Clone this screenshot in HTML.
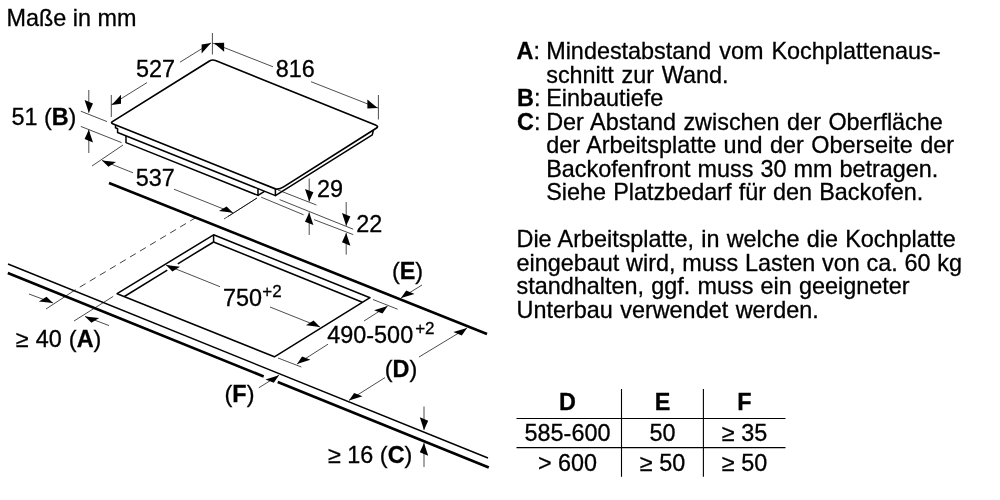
<!DOCTYPE html>
<html lang="de"><head><meta charset="utf-8"><title>Maße in mm</title>
<style>
html,body{margin:0;padding:0;background:#fff;}
body{width:1000px;height:500px;overflow:hidden;}
svg{display:block;will-change:transform;font-family:"Liberation Sans",Arial,Helvetica,sans-serif;font-size:23.4px;fill:#000;stroke:#000;}
svg text{stroke:#000;stroke-width:0.3px;fill:#000;}
</style></head><body>
<svg width="1000" height="500" viewBox="0 0 1000 500">
<rect x="0" y="0" width="1000" height="500" fill="#fff" stroke="none"/>
<text x="6.5" y="25.5" text-anchor="start" >Maße in mm</text>
<path d="M113.2,123.95 Q110.4,122.9 112.4,121.6 L209.5,60.95 Q212.3,59.3 215.5,60.55 L375.5,125.0 Q379.05,126.45 376.2,128.25 L284,186.6 Q278.8,189.9 275.4,188.86 Z" fill="none" stroke-width="1.7" stroke-linejoin="round"/>
<polyline points="115.5,124.9 115.5,127.8 117.6,128.8 117.6,132.5 275.4,195.6 275.4,188.9" stroke-width="1.5" fill="none" stroke-linejoin="round" />
<polyline points="126.0,135.9 126.0,142.6 258.0,195.4 258.0,188.7" stroke-width="1.5" fill="none" stroke-linejoin="round" />
<polyline points="258.0,195.4 264.5,191.3" stroke-width="1.5" fill="none" stroke-linejoin="round" />
<polyline points="275.4,195.6 372.3,134.8 373.4,130.2" stroke-width="1.5" fill="none" stroke-linejoin="round" />
<line x1="212.4" y1="33.0" x2="212.4" y2="54.5" stroke-width="0.7" />
<line x1="111.3" y1="95.0" x2="111.3" y2="117.0" stroke-width="0.7" />
<line x1="378.4" y1="95.0" x2="378.4" y2="119.5" stroke-width="0.7" />
<line x1="211.0" y1="43.0" x2="180.0" y2="62.2" stroke-width="0.7" />
<line x1="147.0" y1="82.6" x2="111.5" y2="104.7" stroke-width="0.7" />
<polygon points="211.0,43.1 201.6,53.4 201.6,44.4" fill="#000" stroke="none"/>
<polygon points="111.7,105.0 121.0,103.7 121.0,94.7" fill="#000" stroke="none"/>
<text x="155.5" y="76.7" text-anchor="middle" >527</text>
<line x1="212.5" y1="43.0" x2="273.0" y2="66.8" stroke-width="0.7" />
<line x1="311.0" y1="81.7" x2="378.0" y2="108.0" stroke-width="0.7" />
<polygon points="213.9,43.1 224.1,51.7 224.1,42.7" fill="#000" stroke="none"/>
<polygon points="377.6,108.0 367.4,108.5 367.4,99.5" fill="#000" stroke="none"/>
<text x="295.3" y="76.9" text-anchor="middle" >816</text>
<text x="11.4" y="125.1" text-anchor="start" >51 (<tspan font-weight="bold">B</tspan>)</text>
<line x1="80.8" y1="111.2" x2="107.0" y2="121.6" stroke-width="0.7" />
<line x1="80.8" y1="126.4" x2="121.6" y2="142.6" stroke-width="0.7" />
<line x1="88.8" y1="90.0" x2="88.8" y2="112.8" stroke-width="0.7" />
<polygon points="88.8,112.8 93.0,103.5 84.6,100.1" fill="#000" stroke="none"/>
<line x1="88.8" y1="153.0" x2="88.8" y2="129.8" stroke-width="0.7" />
<polygon points="88.8,129.8 93.0,142.5 84.6,139.1" fill="#000" stroke="none"/>
<line x1="123.0" y1="145.0" x2="92.0" y2="166.0" stroke-width="0.7" />
<line x1="257.0" y1="198.0" x2="224.0" y2="219.0" stroke-width="0.7" />
<line x1="102.0" y1="160.4" x2="133.0" y2="172.8" stroke-width="0.7" />
<line x1="174.0" y1="189.2" x2="233.0" y2="212.8" stroke-width="0.7" />
<polygon points="102.0,160.4 116.0,162.1 108.4,166.8" fill="#000" stroke="none"/>
<polygon points="233.0,212.8 226.6,206.4 219.0,211.1" fill="#000" stroke="none"/>
<text x="155.3" y="185.5" text-anchor="middle" >537</text>
<line x1="278.0" y1="190.0" x2="316.4" y2="205.0" stroke-width="0.7" />
<line x1="279.6" y1="199.6" x2="353.2" y2="229.2" stroke-width="0.7" />
<line x1="261.2" y1="197.2" x2="303.6" y2="214.8" stroke-width="0.7" />
<line x1="314.0" y1="219.6" x2="353.2" y2="234.6" stroke-width="0.7" />
<line x1="309.2" y1="178.5" x2="309.2" y2="201.6" stroke-width="0.7" />
<polygon points="309.2,201.6 313.4,192.3 305.0,188.9" fill="#000" stroke="none"/>
<line x1="309.2" y1="235.0" x2="309.2" y2="212.4" stroke-width="0.7" />
<polygon points="309.2,212.4 313.4,225.1 305.0,221.7" fill="#000" stroke="none"/>
<line x1="346.2" y1="202.0" x2="346.2" y2="225.8" stroke-width="0.7" />
<polygon points="346.2,225.8 350.4,216.5 342.0,213.1" fill="#000" stroke="none"/>
<line x1="346.2" y1="254.6" x2="346.2" y2="233.0" stroke-width="0.7" />
<polygon points="346.2,233.0 350.4,245.7 342.0,242.3" fill="#000" stroke="none"/>
<text x="330.0" y="196.6" text-anchor="middle" >29</text>
<text x="369.2" y="231.8" text-anchor="middle" >22</text>
<line x1="109.0" y1="183.0" x2="487.0" y2="334.0" stroke-width="2.6" stroke-linecap="butt"/>
<line x1="8.0" y1="264.0" x2="488.0" y2="458.0" stroke-width="1.4" />
<line x1="7.8" y1="273.1" x2="263.7" y2="376.5" stroke-width="2.75" />
<line x1="277.7" y1="382.1" x2="488.8" y2="467.4" stroke-width="2.75" />
<polygon points="117.1,293.7 213.6,234.8 370.0,297.7 274.4,356.8" stroke-width="1.5" fill="none" stroke-linejoin="round" />
<line x1="213.6" y1="234.8" x2="213.6" y2="242.0" stroke-width="1.5" />
<line x1="213.6" y1="242.0" x2="177.8" y2="263.8" stroke-width="1.5" />
<line x1="167.3" y1="270.2" x2="124.4" y2="296.5" stroke-width="1.5" />
<line x1="213.6" y1="242.0" x2="362.4" y2="302.2" stroke-width="1.5" />
<line x1="196.0" y1="217.5" x2="75.0" y2="290.0" stroke-width="0.75" stroke-dasharray="6.8 4.9"/>
<line x1="75.0" y1="290.0" x2="46.0" y2="309.0" stroke-width="0.7" />
<line x1="113.2" y1="296.4" x2="74.0" y2="321.0" stroke-width="0.7" />
<line x1="257.0" y1="198.0" x2="228.0" y2="216.5" stroke-width="0.7" />
<line x1="29.0" y1="294.0" x2="53.0" y2="303.0" stroke-width="0.7" />
<polygon points="53.0,303.0 46.5,296.8 38.9,301.5" fill="#000" stroke="none"/>
<line x1="109.0" y1="325.6" x2="85.0" y2="316.4" stroke-width="0.7" />
<polygon points="85.0,316.4 99.1,318.0 91.4,322.7" fill="#000" stroke="none"/>
<text x="15.8" y="347.0" text-anchor="start" style="word-spacing:0.6px">≥ 40 (<tspan font-weight="bold">A</tspan>)</text>
<line x1="166.0" y1="265.0" x2="220.0" y2="286.7" stroke-width="0.7" />
<line x1="270.0" y1="307.0" x2="320.0" y2="327.0" stroke-width="0.7" />
<polygon points="166.0,265.0 180.0,266.7 172.4,271.5" fill="#000" stroke="none"/>
<polygon points="320.0,327.0 313.6,320.6 306.0,325.3" fill="#000" stroke="none"/>
<text x="223.0" y="306.2" text-anchor="start" >750<tspan font-size="17" dy="-9.2" dx="0.3">+2</tspan></text>
<line x1="373.0" y1="299.5" x2="397.6" y2="309.2" stroke-width="0.7" />
<line x1="278.0" y1="358.0" x2="301.4" y2="367.0" stroke-width="0.7" />
<line x1="387.6" y1="306.0" x2="364.0" y2="321.0" stroke-width="0.7" />
<line x1="328.0" y1="344.2" x2="297.0" y2="364.0" stroke-width="0.7" />
<polygon points="387.6,306.0 382.5,313.6 374.1,310.2" fill="#000" stroke="none"/>
<polygon points="297.0,364.0 310.4,359.8 302.1,356.4" fill="#000" stroke="none"/>
<text x="327.3" y="343.0" text-anchor="start" >490-500<tspan font-size="17" dy="-8.6" dx="2.0">+2</tspan></text>
<line x1="467.0" y1="328.0" x2="419.0" y2="357.0" stroke-width="0.7" />
<line x1="385.0" y1="377.6" x2="349.0" y2="400.3" stroke-width="0.7" />
<polygon points="467.0,328.0 461.8,335.4 453.4,332.0" fill="#000" stroke="none"/>
<polygon points="349.0,400.5 362.5,396.3 354.1,392.9" fill="#000" stroke="none"/>
<text x="401.0" y="376.8" text-anchor="middle" >(<tspan font-weight="bold">D</tspan>)</text>
<text x="407.5" y="278.5" text-anchor="middle" >(<tspan font-weight="bold">E</tspan>)</text>
<line x1="422.0" y1="285.0" x2="401.0" y2="298.0" stroke-width="0.7" />
<polygon points="401.0,298.0 414.5,293.9 406.2,290.5" fill="#000" stroke="none"/>
<text x="239.5" y="402.1" text-anchor="middle" >(<tspan font-weight="bold">F</tspan>)</text>
<line x1="258.8" y1="387.8" x2="279.0" y2="375.2" stroke-width="0.7" />
<polygon points="279.0,375.2 273.8,382.7 265.5,379.4" fill="#000" stroke="none"/>
<text x="328.0" y="462.5" text-anchor="start" >≥ 16 (<tspan font-weight="bold">C</tspan>)</text>
<line x1="424.0" y1="406.5" x2="424.0" y2="430.0" stroke-width="0.7" />
<polygon points="424.0,430.0 428.2,420.7 419.8,417.3" fill="#000" stroke="none"/>
<line x1="424.0" y1="467.0" x2="424.0" y2="443.0" stroke-width="0.7" />
<polygon points="424.0,443.0 428.2,455.7 419.8,452.3" fill="#000" stroke="none"/>
<text x="516.5" y="59.1" text-anchor="start" ><tspan font-weight="bold">A</tspan>:</text>
<text x="546.2" y="59.1" text-anchor="start" style="word-spacing:1.5px">Mindestabstand vom Kochplattenaus-</text>
<text x="546.2" y="82.7" text-anchor="start" style="word-spacing:1.2px">schnitt zur Wand.</text>
<text x="517.0" y="106.2" text-anchor="start" ><tspan font-weight="bold">B</tspan>:</text>
<text x="546.2" y="106.2" text-anchor="start" >Einbautiefe</text>
<text x="517.0" y="129.8" text-anchor="start" ><tspan font-weight="bold">C</tspan>:</text>
<text x="546.2" y="129.8" text-anchor="start" style="word-spacing:1.0px">Der Abstand zwischen der Oberfläche</text>
<text x="546.2" y="153.3" text-anchor="start" style="word-spacing:0.94px">der Arbeitsplatte und der Oberseite der</text>
<text x="546.2" y="176.8" text-anchor="start" style="word-spacing:0.5px">Backofenfront muss 30 mm betragen.</text>
<text x="546.2" y="200.4" text-anchor="start" style="word-spacing:0.65px">Siehe Platzbedarf für den Backofen.</text>
<text x="516.5" y="247.4" text-anchor="start" style="word-spacing:0.72px">Die Arbeitsplatte, in welche die Kochplatte</text>
<text x="516.5" y="270.9" text-anchor="start" style="word-spacing:0.3px">eingebaut wird, muss Lasten von ca. 60 kg</text>
<text x="516.5" y="294.4" text-anchor="start" style="word-spacing:0.75px">standhalten, ggf. muss ein geeigneter</text>
<text x="516.5" y="317.9" text-anchor="start" style="word-spacing:1.0px">Unterbau verwendet werden.</text>
<line x1="621.5" y1="389.0" x2="621.5" y2="476.8" stroke-width="1.1" />
<line x1="703.4" y1="389.0" x2="703.4" y2="476.8" stroke-width="1.1" />
<line x1="516.5" y1="418.5" x2="785.5" y2="418.5" stroke-width="1.1" />
<line x1="516.5" y1="447.6" x2="785.5" y2="447.6" stroke-width="1.1" />
<text x="567.5" y="410.3" text-anchor="middle" ><tspan font-weight="bold">D</tspan></text>
<text x="662.5" y="410.3" text-anchor="middle" ><tspan font-weight="bold">E</tspan></text>
<text x="744.5" y="410.3" text-anchor="middle" ><tspan font-weight="bold">F</tspan></text>
<text x="567.5" y="441.3" text-anchor="middle" >585-600</text>
<text x="662.5" y="441.3" text-anchor="middle" >50</text>
<text x="744.5" y="441.3" text-anchor="middle" >≥ 35</text>
<text x="567.5" y="470.5" text-anchor="middle" >&gt; 600</text>
<text x="662.5" y="470.5" text-anchor="middle" >≥ 50</text>
<text x="744.5" y="470.5" text-anchor="middle" >≥ 50</text>
</svg>
</body></html>
